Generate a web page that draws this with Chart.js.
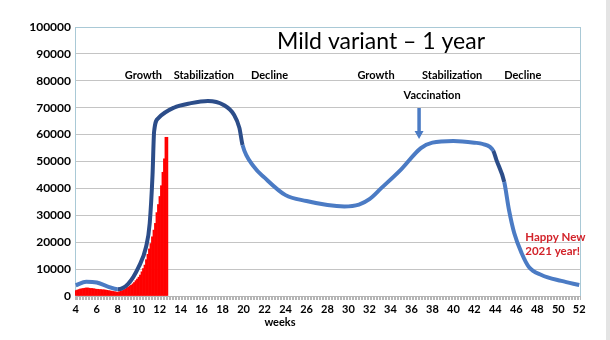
<!DOCTYPE html>
<html>
<head>
<meta charset="utf-8">
<script src="https://cdn.jsdelivr.net/npm/chart.js@4"></script>
<style>
  html, body { margin: 0; padding: 0; background: #fff; }
  #wrap { position: relative; width: 610px; height: 340px; }
  #edge { position: absolute; right: 0; top: 0; width: 4px; height: 340px; background: #e4e4e4; }
</style>
</head>
<body>
<div id="wrap">
  <canvas id="chart" width="610" height="340"></canvas>
  <div id="edge"></div>
</div>
<script>
// weekly model curve
const lineWeeks = [4, 5, 6, 7, 8, 9, 10, 10.7, 11.05, 11.32, 11.47, 11.9, 13.35, 15, 16.6, 18.1, 19.1, 19.6, 19.9,
  21, 22, 24, 26, 28, 29.6, 31, 32, 33.1, 35, 36.9, 38, 40, 42, 42.8, 43.8, 44.1, 44.85, 45.3, 45.8, 46.5, 47.2, 48.4, 50.3, 52];
const lineValues = [4000, 5300, 5000, 3600, 2500, 4500, 10800, 18200, 27000, 45000, 61100, 66200, 70000, 71700, 72500, 71000, 67300, 62500, 56100,
  48000, 44000, 37500, 35300, 33800, 33300, 34000, 36000, 40000, 47000, 55000, 57000, 57600, 57000, 56500, 54000, 50600, 42400, 32000, 23400, 16000, 10800, 7800, 5600, 4100];

// daily reported cases, starting at week 4
const firstWeek = 4;
const dailyCases = [
  2000, 2200, 2400, 2600, 2700, 2800, 2900,
  3000, 3000, 2900, 2800, 2800, 2700, 2600,
  2500, 2500, 2400, 2400, 2300, 2300, 2200,
  2100, 2000, 1900, 1800, 1700, 1600, 1500,
  1400, 1600, 1800, 2000, 2200, 2500, 2900,
  3300, 3700, 4000, 4500, 5000, 5700, 6300,
  7000, 7800, 9000, 10200, 11500, 13500, 15500,
  17500, 19500, 22000, 24500, 27000, 31000, 34000,
  37000, 41000, 46000, 51000, 59000, 59000
];

const xLabelWeeks = [4, 6, 8, 10, 12, 14, 16, 18, 20, 22, 24, 26, 28, 30, 32, 34, 36, 38, 40, 42, 44, 46, 48, 50, 52];
const yTickLabels = ['0', '10000', '20000', '30000', '40000', '50000', '60000', '70000', '80000', '90000', '100000'];

const darkBlue = '#2c4d89';
const lightBlue = '#4b7bc4';
const frameBlue = '#a9c9d6';

function segColor(ctx) {
  const w = ctx.p0.parsed.x;
  if (w >= 8 && w < 19.9) return darkBlue;
  if (w >= 43.8 && w < 44.85) return darkBlue;
  return lightBlue;
}

const notes = {
  id: 'notes',
  afterDraw(chart) {
    const c = chart.ctx, xs = chart.scales.x, ys = chart.scales.y, a = chart.chartArea;
    const px = w => xs.getPixelForValue(w), py = v => ys.getPixelForValue(v);
    c.save();
    // right frame
    c.strokeStyle = frameBlue;
    c.lineWidth = 1;
    c.beginPath();
    c.moveTo(a.right + 0.5, a.top);
    c.lineTo(a.right + 0.5, a.bottom);
    c.stroke();

    c.textBaseline = 'middle';
    c.textAlign = 'center';
    c.fillStyle = '#000';
    c.font = '23px Lato';
    c.fillText('Mild variant \u2013 1 year', px(33.1), py(94400));

    c.font = 'bold 11px Lato';
    [['Growth', 10.45], ['Stabilization', 16.21], ['Decline', 22.47],
     ['Growth', 32.63], ['Stabilization', 39.88], ['Decline', 46.61]].forEach(([t, w]) => {
      c.fillText(t, px(w), py(82000));
    });
    c.fillText('Vaccination', px(37.97), py(74700));
    c.fillText('weeks', px(23.47), py(-10000));

    // vaccination arrow
    const ax = px(36.73), y0 = py(69900), y1 = py(58400);
    c.strokeStyle = lightBlue;
    c.fillStyle = lightBlue;
    c.lineWidth = 3.5;
    c.beginPath();
    c.moveTo(ax, y0);
    c.lineTo(ax, y1 - 7);
    c.stroke();
    c.beginPath();
    c.moveTo(ax - 4.5, y1 - 8);
    c.lineTo(ax + 4.5, y1 - 8);
    c.lineTo(ax, y1);
    c.closePath();
    c.fill();

    c.fillStyle = '#d2232a';
    c.textAlign = 'left';
    c.font = 'bold 11.5px Lato';
    c.fillText('Happy New', px(46.85), py(21900));
    c.fillText('2021 year!', px(46.85), py(16700));
    c.restore();
  }
};

Chart.defaults.font.family = 'Lato';
Chart.defaults.color = '#000';

new Chart(document.getElementById('chart').getContext('2d'), {
  data: {
    datasets: [{
      type: 'line',
      data: lineWeeks.map((w, i) => ({ x: w, y: lineValues[i] })),
      borderColor: lightBlue,
      borderWidth: 4,
      pointRadius: 0,
      cubicInterpolationMode: 'monotone',
      segment: { borderColor: segColor },
      clip: false,
      order: 0
    }, {
      type: 'bar',
      data: dailyCases.map((v, i) => ({ x: firstWeek + i / 7, y: v })),
      backgroundColor: '#ff0000',
      borderWidth: 0,
      barPercentage: 1,
      categoryPercentage: 1,
      order: 1
    }]
  },
  options: {
    responsive: false,
    animation: false,
    layout: { padding: { top: 27, right: 30, left: 0, bottom: 0 } },
    plugins: { legend: { display: false }, tooltip: { enabled: false } },
    scales: {
      x: {
        type: 'linear',
        min: 4,
        max: 52,
        afterFit: s => { s.height = 44; },
        border: { color: '#b5b5b5' },
        grid: { drawOnChartArea: false, tickLength: 4, color: '#b5b5b5' },
        ticks: {
          stepSize: 1 / 7,
          autoSkip: false,
          maxRotation: 0,
          minRotation: 0,
          padding: 3,
          font: { size: 11, weight: 'bold' },
          callback: v => {
            const r = Math.round(v);
            return Math.abs(v - r) < 1e-6 && xLabelWeeks.includes(r) ? String(r) : '';
          }
        }
      },
      y: {
        min: 0,
        max: 100000,
        afterFit: s => { s.width = 75; },
        border: { color: frameBlue },
        grid: {
          drawTicks: false,
          color: ctx => ctx.tick.value === 100000 ? frameBlue : '#c4c4c4'
        },
        ticks: {
          stepSize: 10000,
          padding: 4,
          font: { size: 12, weight: 'bold' },
          callback: (v, i) => yTickLabels[i]
        }
      }
    }
  },
  plugins: [notes]
});
</script>
</body>
</html>
